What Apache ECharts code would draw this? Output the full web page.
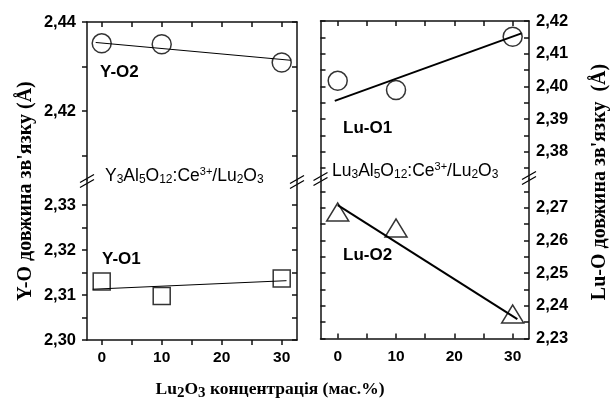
<!DOCTYPE html>
<html><head><meta charset="utf-8">
<script src="https://cdn.jsdelivr.net/npm/echarts@6/dist/echarts.min.js"></script>
<style>html,body{margin:0;padding:0;background:#fff}#c{width:614px;height:401px}</style>
</head><body><div id="c"></div>
<script>
// ---- data ----
const concentration = [0, 10, 30];
const yO2 = [2.4352, 2.4350, 2.4309];
const yO1 = [2.3130, 2.3098, 2.3137];
const luO1 = [2.4017, 2.3989, 2.4152];
const luO2 = [2.2687, 2.2638, 2.2375];
// fitted lines (endpoints)
const fitYO2x = [-1, 31.5], fitYO2y = [2.4354, 2.4314];
const fitYO1x = [-1.5, 30.8], fitYO1y = [2.3113, 2.3132];
const fitLuO1x = [-0.5, 31.5], fitLuO1y = [2.3956, 2.4162];
const fitLuO2x = [0, 30.8], fitLuO2y = [2.2708, 2.2359];
// ticks / labels
const xTicks = [0, 5, 10, 15, 20, 25, 30];
const xLabels = [0, 10, 20, 30];
const ltTicks = [2.41, 2.42, 2.43, 2.44], ltLabels = [2.42, 2.44];
const lbTicks = [2.30, 2.305, 2.31, 2.315, 2.32, 2.325, 2.33], lbLabels = [2.30, 2.31, 2.32, 2.33];
const rtTicks = [2.375, 2.38, 2.385, 2.39, 2.395, 2.40, 2.405, 2.41, 2.415, 2.42], rtLabels = [2.38, 2.39, 2.40, 2.41, 2.42];
const rbTicks = [2.23, 2.235, 2.24, 2.245, 2.25, 2.255, 2.26, 2.265, 2.27, 2.275], rbLabels = [2.23, 2.24, 2.25, 2.26, 2.27];
const yTitleLeft = "Y-O довжина зв'язку (Å)";
const yTitleRight = "Lu-O довжина зв'язку  (Å)";
const xTitleRest = " концентрація (мас.%)";

// ---- helpers ----
const AX = '#111';
const pairs = (xs, ys) => xs.map((x, i) => [x, ys[i]]);
const fmtY = v => Number(v).toFixed(2).replace('.', ',');
const labelStyle = {fontFamily: 'Liberation Sans, Arial', fontWeight: 'bold', fontSize: 16.5, color: '#000'};

function xAx(grid, min, max, pos, inside, showLabel) {
  return {type: 'value', gridIndex: grid, min, max, position: pos,
    axisLine: {show: true, onZero: false, lineStyle: {color: AX, width: 1.5}},
    axisTick: {show: true, inside, length: 5, customValues: xTicks, lineStyle: {color: AX, width: 1.5}},
    axisLabel: Object.assign({show: showLabel, customValues: xLabels, margin: 10, formatter: v => String(v)}, labelStyle, {fontSize: 15.5}),
    splitLine: {show: false}};
}
function yAx(grid, min, max, pos, inside, ticks, labels, showLabel, margin) {
  return {type: 'value', gridIndex: grid, min, max, position: pos,
    axisLine: {show: true, onZero: false, lineStyle: {color: AX, width: 1.5}},
    axisTick: {show: true, inside, length: 5, customValues: ticks, lineStyle: {color: AX, width: 1.5}},
    axisLabel: Object.assign({show: showLabel, customValues: labels, margin: margin || 10, formatter: fmtY}, labelStyle),
    splitLine: {show: false}};
}
function fitLine(xi, yi, xs, ys, w) {
  return {type: 'line', xAxisIndex: xi, yAxisIndex: yi, data: pairs(xs, ys), symbol: 'none',
    lineStyle: {color: '#000', width: w}, silent: true, animation: false, z: 2};
}
function marks(xi, yi, ys, symbol, size) {
  return {type: 'scatter', xAxisIndex: xi, yAxisIndex: yi, data: pairs(concentration, ys), symbol, symbolSize: size,
    itemStyle: {color: 'rgba(0,0,0,0)', borderColor: '#000', borderWidth: 1.5}, animation: false, z: 3};
}
function breakMark(cx, cy) {
  return {type: 'group', x: cx, y: cy, z: 100, children: [
    {type: 'polygon', shape: {points: [[-7, 1.5], [7, -6.5], [7, -1.5], [-7, 6.5]]}, style: {fill: '#fff', stroke: null}},
    {type: 'line', shape: {x1: -7, y1: 1.5, x2: 7, y2: -6.5}, style: {stroke: '#000', lineWidth: 1.3}},
    {type: 'line', shape: {x1: -7, y1: 6.5, x2: 7, y2: -1.5}, style: {stroke: '#000', lineWidth: 1.3}}
  ]};
}
function tag(text, x, y) {
  return {type: 'text', x, y, z: 50, style: {text, fontFamily: 'Liberation Sans, Arial', fontWeight: 'bold', fontSize: 17, fill: '#000', verticalAlign: 'middle'}};
}
const formulaRich = {
  n: {fontFamily: 'Liberation Sans, Arial', fontSize: 17.5, color: '#000', verticalAlign: 'bottom', lineHeight: 19},
  s: {fontFamily: 'Liberation Sans, Arial', fontSize: 12, color: '#000', verticalAlign: 'bottom', lineHeight: 17},
  p: {fontFamily: 'Liberation Sans, Arial', fontSize: 11, color: '#000', verticalAlign: 'top', lineHeight: 12}
};
function formula(host, x, y) {
  return {type: 'text', x, y, z: 50, style: {
    text: '{n|' + host + '}{s|3}{n|Al}{s|5}{n|O}{s|12}{n|:Ce}{p|3+}{n|/Lu}{s|2}{n|O}{s|3}',
    rich: formulaRich, verticalAlign: 'middle'}};
}

const G = [
  {left: 87, top: 22, width: 210, height: 158},
  {left: 87, top: 180, width: 210, height: 160},
  {left: 320.5, top: 21, width: 208.5, height: 158},
  {left: 320.5, top: 179, width: 208.5, height: 159.5}
].map(g => Object.assign({containLabel: false, outerBoundsMode: 'none', show: false}, g));

const LX = [-2.45, 32.55], RX = [-2.95, 32.8];
const option = {
  backgroundColor: '#fff',
  animation: false,
  grid: G,
  xAxis: [
    xAx(0, LX[0], LX[1], 'top', true, false),
    xAx(1, LX[0], LX[1], 'bottom', false, true),
    xAx(2, RX[0], RX[1], 'top', true, false),
    xAx(3, RX[0], RX[1], 'bottom', true, true)
  ],
  yAxis: [
    yAx(0, 2.4045, 2.44, 'left', false, ltTicks, ltLabels, true, 11),
    yAx(0, 2.4045, 2.44, 'right', true, ltTicks, ltLabels, false),
    yAx(1, 2.30, 2.3356, 'left', false, lbTicks, lbLabels, true, 11),
    yAx(1, 2.30, 2.3356, 'right', true, lbTicks, lbLabels, false),
    yAx(2, 2.3717, 2.42, 'left', true, rtTicks, rtLabels, false),
    yAx(2, 2.3717, 2.42, 'right', true, rtTicks, rtLabels, true, 7),
    yAx(3, 2.23, 2.2788, 'left', true, rbTicks, rbLabels, false),
    yAx(3, 2.23, 2.2788, 'right', true, rbTicks, rbLabels, true, 7)
  ],
  series: [
    fitLine(0, 0, fitYO2x, fitYO2y, 1),
    marks(0, 0, yO2, 'circle', 19),
    fitLine(1, 2, fitYO1x, fitYO1y, 1),
    marks(1, 2, yO1, 'rect', 17),
    fitLine(2, 4, fitLuO1x, fitLuO1y, 2),
    marks(2, 4, luO1, 'circle', 19),
    fitLine(3, 6, fitLuO2x, fitLuO2y, 2),
    marks(3, 6, luO2, 'triangle', [22, 18])
  ],
  graphic: [
    tag('Y-O2', 100, 72),
    tag('Y-O1', 102, 259),
    tag('Lu-O1', 343, 128),
    tag('Lu-O2', 343, 255),
    formula('Y', 105, 176),
    formula('Lu', 332, 171),
    breakMark(87, 181),
    breakMark(297, 182),
    breakMark(320.5, 179),
    breakMark(529, 178),
    {type: 'text', x: 26, y: 191, rotation: Math.PI / 2, z: 50,
      style: {text: yTitleLeft, fontFamily: 'Liberation Serif, Times New Roman', fontWeight: 'bold', fontSize: 20, fill: '#000', align: 'center', verticalAlign: 'middle'}},
    {type: 'text', x: 600, y: 182, rotation: Math.PI / 2, z: 50,
      style: {text: yTitleRight, fontFamily: 'Liberation Serif, Times New Roman', fontWeight: 'bold', fontSize: 20, fill: '#000', align: 'center', verticalAlign: 'middle'}},
    {type: 'text', x: 270, y: 389, z: 50,
      style: {text: '{b|Lu}{s|2}{b|O}{s|3}{b|' + xTitleRest + '}', align: 'center', verticalAlign: 'middle',
        rich: {
          b: {fontFamily: 'Liberation Serif, Times New Roman', fontWeight: 'bold', fontSize: 17.5, color: '#000'},
          s: {fontFamily: 'Liberation Serif, Times New Roman', fontWeight: 'bold', fontSize: 15, color: '#000', padding: [9, 0, 0, 0]}
        }}}
  ]
};
const chart = echarts.init(document.getElementById('c'), null, {renderer: 'canvas'});
chart.setOption(option);
</script></body></html>
